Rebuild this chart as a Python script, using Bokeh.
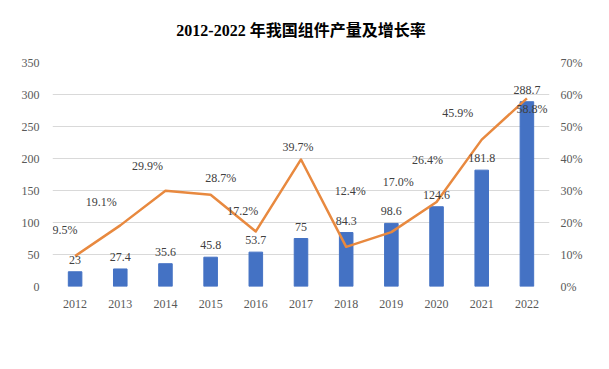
from bokeh.plotting import figure
from bokeh.models import (ColumnDataSource, Range1d, LinearAxis, FixedTicker,
                          NumeralTickFormatter, Legend, LegendItem, LabelSet)
from bokeh.core.properties import value
from bokeh.embed import file_html
from bokeh.resources import INLINE

# ---- data ----
years = ["2012", "2013", "2014", "2015", "2016", "2017", "2018", "2019", "2020", "2021", "2022"]
output_gw = [23, 27.4, 35.6, 45.8, 53.7, 75, 84.3, 98.6, 124.6, 181.8, 288.7]
growth_pct = [9.5, 19.1, 29.9, 28.7, 17.2, 39.7, 12.4, 17.0, 26.4, 45.9, 58.8]
left_ticks = [0, 50, 100, 150, 200, 250, 300, 350]
right_ticks = [0, 10, 20, 30, 40, 50, 60, 70]

# label placement (screen pixel offsets, styling only)
pct_dx = [-10, -19, -18, 10, -13, -3, 4, 7, -9, -24, 5]
pct_dy = [26, 23, 25, 17, 20, 12, 56, 50, 42, 27, -11]

SERIF = "Liberation Serif, Noto Sans CJK SC, serif"
BLUE = "#4472C4"
ORANGE = "#E8893F"

x_idx = list(range(len(years)))

src = ColumnDataSource(dict(
    xi=x_idx,
    gw=output_gw,
    gw_label=[f"{v:g}" for v in output_gw],
    pct=[v / 100 for v in growth_pct],
    pct_label=[f"{v:.1f}%" for v in growth_pct],
    dx=pct_dx,
    dy=pct_dy,
))

p = figure(x_range=Range1d(-0.5, len(years) - 0.5), y_range=Range1d(0, 350),
           frame_width=497, frame_height=224,
           output_backend="svg", toolbar_location=None,
           title="2012-2022 年我国组件产量及增长率",
           min_border_left=52, min_border_right=52, min_border_top=1, min_border_bottom=10)
p.extra_y_ranges = {"pct": Range1d(0, 0.7)}
p.outline_line_color = None
p.background_fill_color = "white"
p.border_fill_color = "white"

p.title.align = "center"
p.title.vertical_align = "top"
p.title.offset = -4
p.title.text_font = SERIF
p.title.text_font_size = "16px"
p.title.text_font_style = "bold"
p.title.text_color = "#000000"
p.title.standoff = 43

bars = p.vbar(x="xi", top="gw", width=0.3, source=src, color=BLUE)
line = p.line(x="xi", y="pct", source=src, y_range_name="pct",
              line_color=ORANGE, line_width=2.5, line_join="round")

p.text(x="xi", y="gw", text="gw_label", source=src, text_align="center",
       text_baseline="middle", y_offset=-12, text_font=value(SERIF),
       text_font_size="12px", text_color="#404040")
pct_labels = LabelSet(x="xi", y="pct", text="pct_label", source=src, y_range_name="pct",
                      x_offset="dx", y_offset="dy", text_align="center",
                      text_baseline="middle", text_font=value(SERIF),
                      text_font_size="12px", text_color="#404040")
p.add_layout(pct_labels)

# axes
p.xaxis.ticker = FixedTicker(ticks=x_idx)
p.xaxis.major_label_overrides = {i: y for i, y in zip(x_idx, years)}
p.yaxis.ticker = FixedTicker(ticks=left_ticks)
right = LinearAxis(y_range_name="pct", ticker=FixedTicker(ticks=[t / 100 for t in right_ticks]),
                   formatter=NumeralTickFormatter(format="0%"))
p.add_layout(right, "right")
for ax in [p.yaxis[0], right, p.xaxis[0]]:
    ax.axis_line_color = None
    ax.major_tick_line_color = None
    ax.minor_tick_line_color = None
    ax.major_label_text_font = SERIF
    ax.major_label_text_font_size = "12px"
    ax.major_label_text_color = "#595959"
p.yaxis[0].major_label_standoff = 7
right.major_label_standoff = 5
p.xaxis[0].major_label_standoff = 7

p.xgrid.grid_line_color = None
p.ygrid.grid_line_color = "#d9d9d9"
p.ygrid.grid_line_width = 1

legend = Legend(items=[LegendItem(label="产量（GW）", renderers=[bars]),
                       LegendItem(label="增长率", renderers=[line])],
                orientation="horizontal", location="center",
                border_line_color=None, background_fill_alpha=0,
                label_text_font=SERIF, label_text_font_size="12px",
                label_text_color="#595959", glyph_width=26, glyph_height=5,
                label_standoff=2, spacing=15, padding=0, margin=8)
p.add_layout(legend, "below")

open("out.html", "w").write(file_html(p, INLINE))
